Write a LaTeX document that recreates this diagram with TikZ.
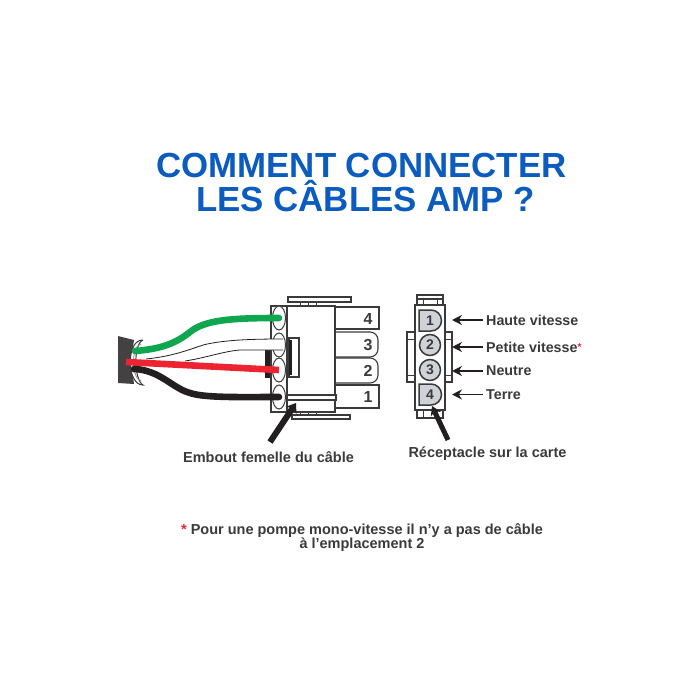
\documentclass[tikz,border=0pt]{standalone}
\usepackage{fontspec}
\setmainfont{Liberation Sans}
\usetikzlibrary{arrows.meta,shapes.geometric}
\definecolor{titleblue}{HTML}{0B5CBE}
\definecolor{ink}{HTML}{3A3A3A}
\definecolor{pin}{HTML}{CFD3D8}
\definecolor{wgreen}{HTML}{0FA650}
\definecolor{wred}{HTML}{EC2330}
\definecolor{wblack}{HTML}{231F20}
\tikzset{
  x=1pt,y=-1pt,
  part/.style={draw=ink,line width=1.1pt,fill=white},
  titletext/.style={font=\fontsize{34.85}{34}\selectfont\bfseries,text=titleblue,inner sep=0pt},
  lab/.style={font=\fontsize{14.3}{14}\selectfont\bfseries,text=ink,inner sep=0pt,anchor=west},
  captiontext/.style={font=\fontsize{14.5}{14}\selectfont\bfseries,text=ink,inner sep=0pt},
  foot/.style={font=\fontsize{14.5}{14}\selectfont\bfseries,text=ink,inner sep=0pt},
  wire/.style={line width=6.6pt},
  leader/.style={draw=wblack,line width=1.4pt,-{Stealth[length=10pt,width=10pt]}},
  pointer/.style={draw=wblack,line width=6pt,-{Stealth[length=9pt,width=13pt]}},
  hole/.style={ellipse,draw=ink,line width=1pt,fill=white,minimum width=13pt,minimum height=24pt,inner sep=0pt},
  pincirc/.style={circle,draw=ink,line width=1.5pt,fill=pin,minimum size=21pt,inner sep=0pt,font=\fontsize{14}{14}\selectfont\bfseries,text=ink},
  pintext/.style={font=\fontsize{14}{14}\selectfont\bfseries,text=ink,inner sep=0pt},
  tabnum/.style={font=\fontsize{16}{16}\selectfont\bfseries,text=ink,inner sep=0pt},
}
\begin{document}
\begin{tikzpicture}
\useasboundingbox (0,0) rectangle (700,700);
\node[titletext] (t1) at (361.5,165.5) {COMMENT CONNECTER};
\node[titletext] (t2) at (365.5,196) {LES CÂBLES AMP ?};

% cable end
\fill[wblack!85] (118,336) -- (134,340) -- (131,360) -- (134,384) -- (118,383) -- cycle;
\draw[ink,line width=1pt,fill=white] (143,340) .. controls (126,339) and (126,385) .. (143,385)
   .. controls (134,380) and (133,344) .. (143,340);
\draw[ink!60,line width=.8pt] (141,344) .. controls (131,346) and (131,378) .. (141,381);

% female connector
\draw[part] (271,306) rectangle (287,412);
\fill[wblack] (265,348) rectangle (270,378);
\draw[part] (288,297) rectangle (351,302);
\draw[part] (292,415) rectangle (350,419);
\draw[ink,line width=1pt] (300,302) -- (300,306) (308,302) -- (308,306) (316,302) -- (316,306);
\draw[ink,line width=1pt] (300,412) -- (300,415) (308,412) -- (308,415) (316,412) -- (316,415);
\draw[part] (335,307) rectangle (379,329);
\draw[part] (335,332) -- (370,332) arc[start angle=90,end angle=0,radius=8pt] -- (378,349) arc[start angle=0,end angle=-90,radius=8pt] -- (335,357);
\draw[part] (335,358) -- (370,358) arc[start angle=90,end angle=0,radius=8pt] -- (378,375) arc[start angle=0,end angle=-90,radius=8pt] -- (335,383);
\draw[part] (335,385) rectangle (379,408);
\draw[part] (287,306) rectangle (335,412);
\draw[part] (289,338) rectangle (299,377);
\fill[wblack] (289,340) rectangle (292,375);
\draw[part] (287,395) rectangle (336,400);
\node[tabnum] (n4) at (368,319) {4};
\node[tabnum] (n3) at (368,345) {3};
\node[tabnum] (n2) at (368,371) {2};
\node[tabnum] (n1) at (368,397) {1};

\node[hole] (h4) at (279,318) {};
\node[hole] (h3) at (279,345) {};
\node[hole] (h2) at (279,370) {};
\node[hole] (h1) at (279,397) {};

% wires
\fill[white] (150,359) .. controls (175,356) and (190,349) .. (205,344.5) .. controls (225,340) and (250,339) .. (283,339)
  -- (283,350) -- (240,350) .. controls (225,351) and (205,358) .. (185,361) -- cycle;
\draw[wblack,line width=.8pt] (146,359) .. controls (175,356) and (190,349) .. (205,344.5) .. controls (225,340) and (250,339) .. (283,339);
\draw[wblack,line width=.8pt] (185,361) .. controls (205,358) and (225,351) .. (240,350) -- (283,350);
\draw[wgreen,wire,line cap=round] (135,351) .. controls (160,349) and (175,344) .. (190,332) .. controls (205,320) and (230,318) .. (h4.center);
\draw[wred,wire] (126,362) -- (h2.center);
\draw[wblack,wire,line cap=round] (134,369) .. controls (160,370) and (172,388) .. (190,393) .. controls (205,398) and (240,397) .. (h1.center);

% pointer of the female connector
\coordinate (pa) at (270,442);
\coordinate (pb) at (296,403);
\draw[pointer] (pa) -- (pb);

% board receptacle
\draw[part] (407,332) rectangle (415,382);
\draw[part] (445,332) rectangle (452,382);
\draw[ink,line width=1pt] (407,339) -- (415,339) (407,375) -- (415,375) (445,339) -- (452,339) (445,375) -- (452,375);
\draw[part] (417,295) rectangle (443,299);
\draw[part] (417,299) rectangle (443,305);
\draw[part] (417,410) rectangle (443,418);
\draw[ink,line width=1pt] (423,299) -- (423,305) (437,299) -- (437,305) (423,410) -- (423,418) (437,410) -- (437,418);
\draw[part] (415,305) rectangle (445,410);
\draw[ink,line width=1.5pt,fill=pin] (419,310) -- (431,310) arc[start angle=90,end angle=-90,radius=10.5pt] -- (419,331) -- cycle;
\draw[ink,line width=1.5pt,fill=pin] (419,384) -- (431,384) arc[start angle=90,end angle=-90,radius=10.5pt] -- (419,405) -- cycle;
\node[pintext] (p1) at (430,320.5) {1};
\node[pincirc] (p2) at (430,345) {2};
\node[pincirc] (p3) at (430,370) {3};
\node[pintext] (p4) at (430,394.5) {4};

\coordinate (qa) at (448,440);
\coordinate (qb) at (432,406);
\draw[wblack,line width=5pt,-{Stealth[length=9pt,width=11pt]}] (qa) -- (qb);

% pin labels
\node[lab] (l1) at (486,320) {Haute vitesse};
\node[lab] (l2) at (486,347) {Petite vitesse\textcolor{wred}{\raisebox{2pt}{\fontsize{10}{10}\selectfont*}}};
\node[lab] (l3) at (486,371) {Neutre};
\node[lab] (l4) at (486,394.5) {Terre};
\draw[leader] (l1.west) ++(-3,0) -- (452,320);
\draw[leader] (l2.west) ++(-3,0) -- (452,347);
\draw[leader] (l3.west) ++(-3,0) -- (452,371);
\draw[leader] (l4.west) ++(-3,0) -- (452,394.5);

\node[captiontext] (c1) at (268.5,457) {Embout femelle du câble};
\node[captiontext] (c2) at (487.5,454) {Réceptacle sur la carte};
\node[foot] (f1) at (362,531) {\textcolor{wred}{*} Pour une pompe mono-vitesse il n’y a pas de câble};
\node[foot] (f2) at (362,544.5) {à l’emplacement 2};
\end{tikzpicture}
\end{document}
